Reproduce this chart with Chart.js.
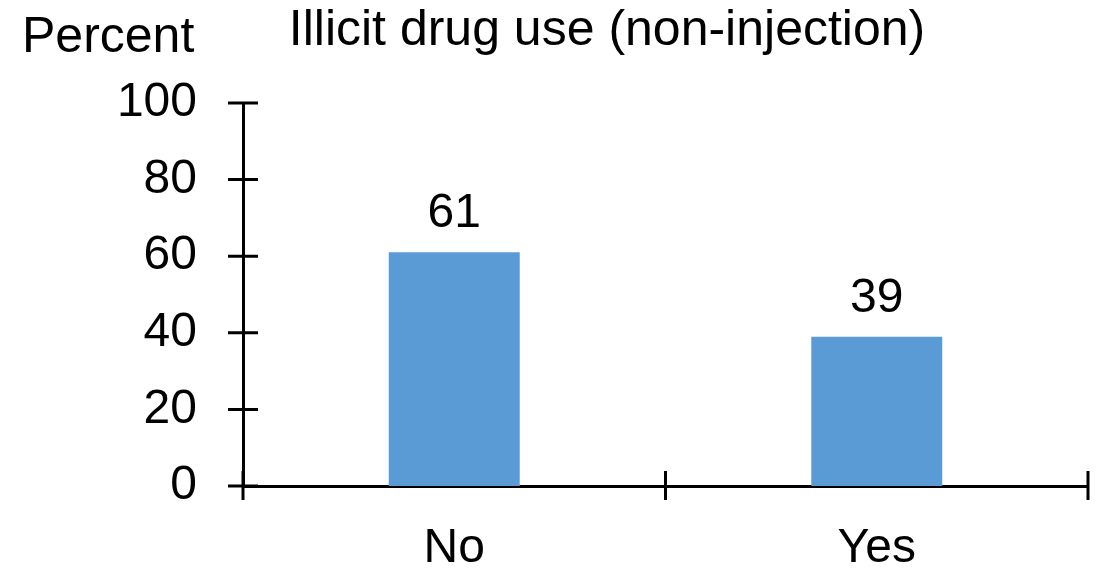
<!DOCTYPE html>
<html>
<head>
<meta charset="utf-8">
<script src="https://cdn.jsdelivr.net/npm/chart.js@4"></script>
<style>
  html, body { margin: 0; padding: 0; background: #fff; }
  #wrap { width: 1107px; height: 568px; }
</style>
</head>
<body>
<div id="wrap"><canvas id="graph"></canvas></div>
<script>
var categories = ['No', 'Yes'];
var percents   = [61, 39];
var yTicks     = [0, 20, 40, 60, 80, 100];
var titleText  = 'Illicit drug use (non-injection)';
var yTitle     = 'Percent';

var FONT = '"Liberation Sans", Arial, sans-serif';

// ticks crossing the axis lines, value labels, titles
var extras = {
    id: 'extras',
    afterDraw: function(chart) {
        var ctx = chart.ctx;
        var x = chart.scales.x, y = chart.scales.y;
        var area = chart.chartArea;
        ctx.save();
        ctx.strokeStyle = '#000';
        ctx.lineWidth = 3;
        ctx.beginPath();
        yTicks.forEach(function(v) {
            var py = y.getPixelForValue(v);
            ctx.moveTo(area.left - 15, py);
            ctx.lineTo(area.left + 15, py);
        });
        var step = x.getPixelForValue(1) - x.getPixelForValue(0);
        for (var i = 0; i <= categories.length; i++) {
            var px = x.getPixelForValue(0) - step / 2 + step * i;
            ctx.moveTo(px, area.bottom - 15);
            ctx.lineTo(px, area.bottom + 14);
        }
        ctx.stroke();

        ctx.fillStyle = '#000';
        ctx.font = '48px ' + FONT;
        ctx.textAlign = 'center';
        ctx.textBaseline = 'alphabetic';
        chart.getDatasetMeta(0).data.forEach(function(bar, i) {
            ctx.fillText(String(percents[i]), bar.x, bar.y - 25);
        });

        ctx.font = '50px ' + FONT;
        ctx.textAlign = 'left';
        ctx.fillText(yTitle, 22, 52);
        ctx.textAlign = 'center';
        ctx.fillText(titleText, 607, 45);
        ctx.restore();
    }
};

new Chart(document.getElementById('graph'), {
    type: 'bar',
    data: {
        labels: categories,
        datasets: [{
            data: percents,
            backgroundColor: '#5B9BD5',
            borderWidth: 0,
            categoryPercentage: 1,
            barPercentage: 0.31
        }]
    },
    plugins: [extras],
    options: {
        responsive: true,
        maintainAspectRatio: false,
        animation: false,
        layout: { padding: { top: 103, right: 19, left: 0, bottom: 0 } },
        plugins: {
            legend: { display: false },
            tooltip: { enabled: false }
        },
        scales: {
            x: {
                grid: { display: false, drawTicks: false },
                border: { display: true, color: '#000', width: 3 },
                ticks: {
                    color: '#000',
                    padding: 39,
                    font: { family: FONT, size: 48, lineHeight: 1 }
                },
                afterFit: function(axis) { axis.height = 82; }
            },
            y: {
                min: 0,
                max: 100,
                afterBuildTicks: function(axis) {
                    axis.ticks = yTicks.map(function(v) { return { value: v }; });
                },
                grid: { display: false, drawTicks: false },
                border: { display: true, color: '#000', width: 3 },
                ticks: {
                    color: '#000',
                    padding: 46,
                    font: { family: FONT, size: 48 }
                },
                afterFit: function(axis) { axis.width = 243; }
            }
        }
    }
});
</script>
</body>
</html>
